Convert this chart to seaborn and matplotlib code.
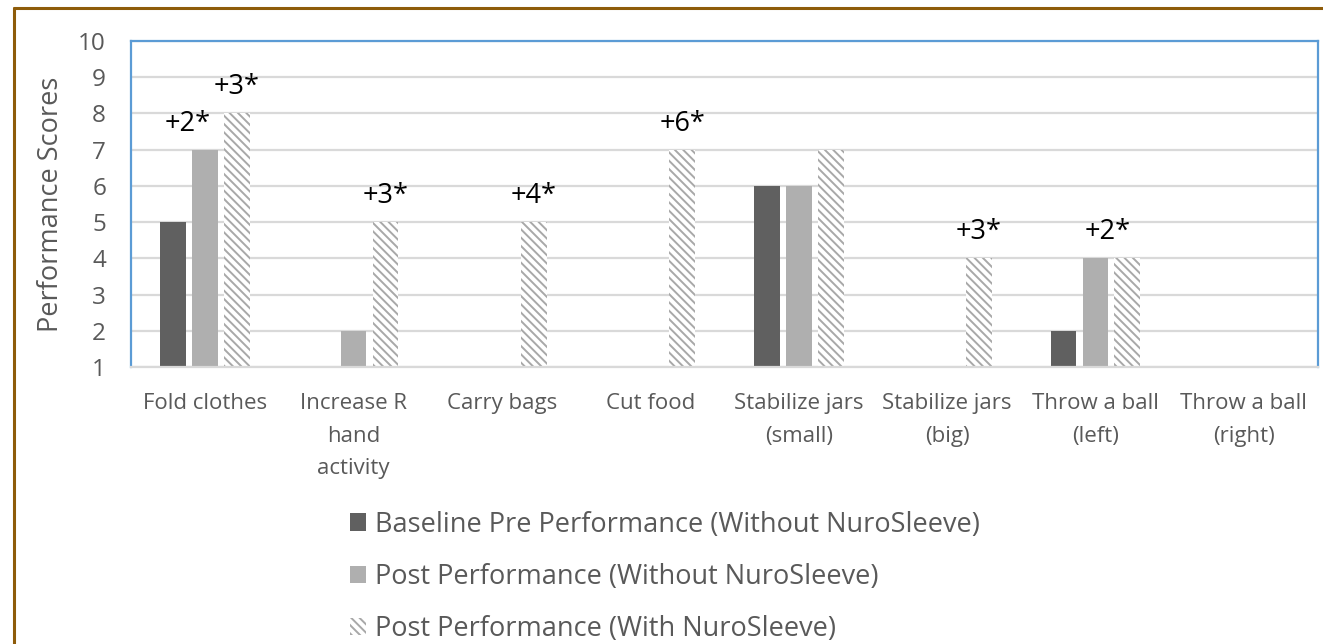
import numpy as np
import pandas as pd
import matplotlib
matplotlib.use("Agg")
import matplotlib.pyplot as plt
import seaborn as sns
from matplotlib.lines import Line2D
from matplotlib.patches import Patch

# Data
tasks = ["Fold clothes", "Increase R hand activity", "Carry bags", "Cut food",
         "Stabilize jars (small)", "Stabilize jars (big)",
         "Throw a ball (left)", "Throw a ball (right)"]
tick_labels = ["Fold clothes", "Increase R\nhand\nactivity", "Carry bags", "Cut food",
               "Stabilize jars\n(small)", "Stabilize jars\n(big)",
               "Throw a ball\n(left)", "Throw a ball\n(right)"]
series = ["Baseline Pre Performance (Without NuroSleeve)",
          "Post Performance (Without NuroSleeve)",
          "Post Performance (With NuroSleeve)"]
baseline_pre = [5, np.nan, np.nan, np.nan, 6, np.nan, 2, np.nan]
post_without = [7, 2, np.nan, np.nan, 6, np.nan, 4, np.nan]
post_with = [8, 5, 5, 7, 7, 4, 4, np.nan]

# gain labels: text, task index, series index the label sits over
gain_text = ["+2*", "+3*", "+3*", "+4*", "+6*", "+3*", "+2*"]
gain_task = [0, 0, 1, 2, 3, 5, 6]
gain_series = [1, 2, 2, 2, 2, 2, 1]
gain_nudge = [-0.12, 0, 0, 0, 0, 0, 0.08]

df = pd.DataFrame({
    "task": tasks * 3,
    "series": np.repeat(series, len(tasks)),
    "score": baseline_pre + post_without + post_with,
})
values = [baseline_pre, post_without, post_with]

sns.set_style("white")
plt.rcParams["font.family"] = ["Open Sans", "DejaVu Sans"]

dark = "#606060"
light = "#AFAFAF"
hatch_col = "#A8A8A8"
text_col = "#595959"
blue = "#5B9BD5"
plt.rcParams["hatch.linewidth"] = 1.4

fig = plt.figure(figsize=(13.23, 6.44), dpi=100)
ax = fig.add_axes([131 / 1323, 1 - 367 / 644, (1318 - 131) / 1323, (367 - 41) / 644])

group_w = 0.645
sns.barplot(data=df, x="task", y="score", hue="series", order=tasks, hue_order=series,
            palette=[dark, light, "white"], width=group_w, gap=0.19, errorbar=None,
            saturation=1, legend=False, ax=ax)

hatch = "\\\\\\\\"
for bar in ax.containers[2]:
    bar.set_facecolor("white")
    bar.set_edgecolor(hatch_col)
    bar.set_hatch(hatch)
    bar.set_linewidth(0)
for cont in ax.containers[:2]:
    for bar in cont:
        bar.set_linewidth(0)

ax.set_ylim(1, 10)
ax.set_yticks(range(1, 11))
ax.set_xlim(-0.5, len(tasks) - 0.5)
ax.set_xticks(range(len(tasks)))
ax.set_xticklabels(tick_labels, linespacing=1.7)
ax.set_xlabel("")
ax.set_ylabel("Performance Scores", fontsize=19.5, color=text_col)
ax.yaxis.set_label_coords(-0.056, 0.5)
ax.tick_params(length=0, labelcolor=text_col)
ax.tick_params(axis="y", pad=18, labelsize=17.5)
ax.tick_params(axis="x", pad=19, labelsize=16)
ax.yaxis.grid(True, color="#D9D9D9", linewidth=1.6)
ax.set_axisbelow(True)
for side in ["left", "top", "right"]:
    ax.spines[side].set_color(blue)
    ax.spines[side].set_linewidth(1.6)
ax.spines["bottom"].set_color("#D9D9D9")
ax.spines["bottom"].set_linewidth(1.6)

# gain annotations
slot = group_w / 3
for t, ti, si, dx in zip(gain_text, gain_task, gain_series, gain_nudge):
    x = ti + (si - 1) * slot + dx
    y = values[si][ti] + 0.72
    ax.text(x, y, t, ha="center", va="center", fontsize=19.5, color="black")

handles = [Patch(facecolor=dark, linewidth=0),
           Patch(facecolor=light, linewidth=0),
           Patch(facecolor="white", edgecolor=hatch_col, hatch=hatch, linewidth=0)]
fig.legend(handles, series, loc="upper left", bbox_to_anchor=(336 / 1323, 1 - 497 / 644),
           frameon=False, fontsize=19.5, labelcolor=text_col, handlelength=0.6,
           handleheight=0.6, handletextpad=0.35, labelspacing=0.9, borderpad=0)

# brown page frame
frame_c = "#8E5C0A"
fig.add_artist(Line2D([14 / 1323, 14 / 1323], [0, 1 - 8 / 644], color=frame_c, lw=2.2))
fig.add_artist(Line2D([14 / 1323, 1], [1 - 8 / 644, 1 - 8 / 644], color=frame_c, lw=2.2))

fig.savefig("out.png", dpi=100)
